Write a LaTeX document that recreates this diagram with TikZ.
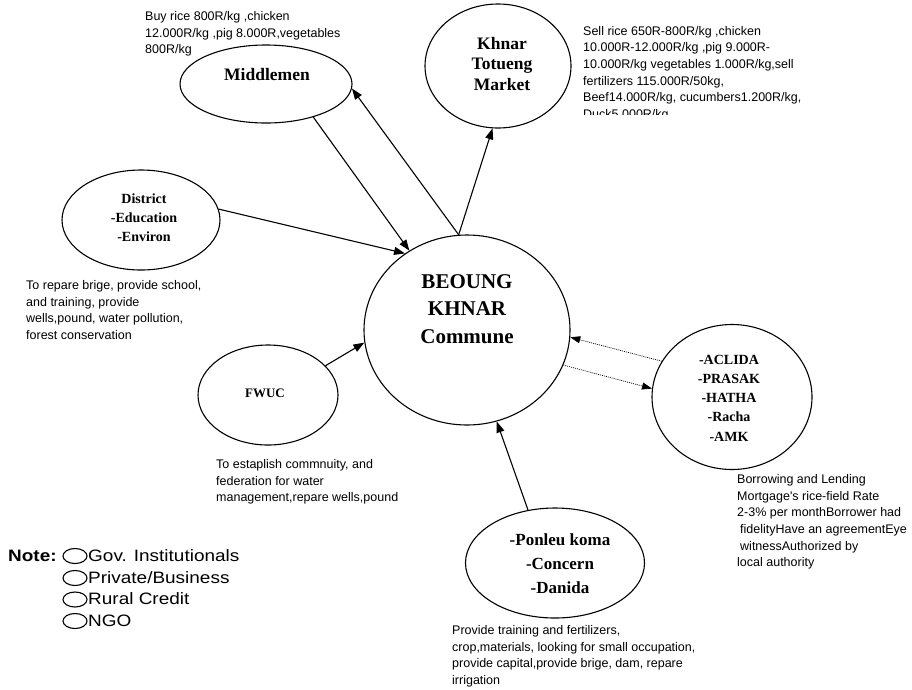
\documentclass[tikz,border=0pt]{standalone}
\usepackage{fontspec}
\setmainfont{Liberation Serif}
\newfontfamily\arialf{Liberation Sans}
\newfontfamily\legf[FakeStretch=1.15]{Liberation Sans}
\usetikzlibrary{shapes.geometric,arrows.meta}
\tikzset{
  ell/.style={draw, ellipse, line width=1.1pt, inner sep=0pt},
  lab/.style={align=center, inner sep=0pt, font=\bfseries},
  ann/.style={anchor=north west, align=left, inner sep=0pt, font=\arialf\fontsize{12.5}{16.6}\selectfont},
  arr/.style={-{Triangle[length=11pt,width=8pt]}, line width=1.1pt},
  darr/.style={-{Triangle[length=10pt,width=7pt]}, line width=0.7pt, dash pattern=on 1pt off 1pt},
  legtext/.style={anchor=base west, inner sep=0pt, font=\legf\fontsize{16.5}{20}\selectfont},
  legell/.style={draw, ellipse, line width=1.1pt, inner sep=0pt, minimum width=24pt, minimum height=15pt}
}
\begin{document}
\begin{tikzpicture}[x=1pt,y=-1pt]
\useasboundingbox[fill=white] (0,0) rectangle (912,689);

% ellipses
\node[ell, minimum width=206pt, minimum height=190pt] (bk) at (467,330) {};
\node[ell, minimum width=172pt, minimum height=78pt] (mid) at (266,84) {};
\node[ell, minimum width=146pt, minimum height=124pt] (mkt) at (498,66) {};
\node[ell, minimum width=158pt, minimum height=100pt] (dis) at (141,220) {};
\node[ell, minimum width=140pt, minimum height=100pt] (fw) at (268,395) {};
\node[ell, minimum width=160pt, minimum height=145pt] (ac) at (732,397) {};
\node[ell, minimum width=179pt, minimum height=110pt] (pk) at (555,563) {};

% ellipse labels
\node[lab, font=\bfseries\fontsize{21}{27.5}\selectfont] (bkt) at (467,309) {BEOUNG\\KHNAR\\Commune};
\node[lab, font=\bfseries\fontsize{17.5}{20}\selectfont] (midt) at (267,75) {Middlemen};
\node[lab, font=\bfseries\fontsize{17.5}{20.5}\selectfont] (mktt) at (502,64) {Khnar\\Totueng\\Market};
\node[lab, font=\bfseries\fontsize{14}{19}\selectfont] (dist) at (144,218) {District\\-Education\\-Environ};
\node[lab, font=\bfseries\fontsize{13}{16}\selectfont] (fwt) at (265,393) {FWUC};
\node[lab, font=\bfseries\fontsize{14}{19.3}\selectfont] (act) at (729,398) {-ACLIDA\\-PRASAK\\-HATHA\\-Racha\\-AMK};
\node[lab, font=\bfseries\fontsize{17}{24}\selectfont] (pkt) at (560,564) {-Ponleu koma\\-Concern\\-Danida};

% connectors
\draw[arr] (mid.-35) -- (bk.126);
\draw[arr] (bk.95) -- (mid.-3);
\draw[arr] (bk.95) -- (mkt.265);
\draw[arr] (dis.8) -- (bk.129);
\draw[arr] (fw.27) -- (bk.187);
\draw[arr] (pk.117) -- (bk.-72);
\draw[darr] (ac.153) -- (bk.-4);
\draw[darr] (bk.-20) -- (ac.174);

% annotations
\node[ann] (buy) at (145,11.5) {Buy rice 800R/kg ,chicken\\12.000R/kg ,pig 8.000R,vegetables\\800R/kg};
\begin{scope}
\clip (570,0) rectangle (912,114);
\node[ann] (sell) at (583,26) {Sell rice 650R-800R/kg ,chicken\\10.000R-12.000R/kg ,pig 9.000R-\\10.000R/kg vegetables 1.000R/kg,sell\\fertilizers 115.000R/50kg,\\Beef14.000R/kg, cucumbers1.200R/kg,\\Duck5.000R/kg};
\end{scope}
\node[ann] (disa) at (26,280.5) {To repare brige, provide school,\\and training, provide\\wells,pound, water pollution,\\forest conservation};
\node[ann] (fwa) at (216,459.5) {To estaplish commnuity, and\\federation for water\\management,repare wells,pound};
\node[ann] (aca) at (737,474.5) {Borrowing and Lending\\Mortgage's rice-field Rate\\2-3\% per monthBorrower had\\\hspace*{3pt}fidelityHave an agreementEye\\\hspace*{3pt}witnessAuthorized by\\local authority};
\node[ann] (pka) at (452,625.5) {Provide training and fertilizers,\\crop,materials, looking for small occupation,\\provide capital,provide brige, dam, repare\\irrigation};

% legend
\node[legtext, font=\legf\bfseries\fontsize{16.5}{20}\selectfont] (note) at (8,561) {Note:};
\node[legell] (l1) at (75,556) {};
\node[legell] (l2) at (75,578) {};
\node[legell] (l3) at (75,599.5) {};
\node[legell] (l4) at (75,621) {};
\node[legtext] (t1) at (88,561) {Gov. Institutionals};
\node[legtext] (t2) at (88,583) {Private/Business};
\node[legtext] (t3) at (88,604.5) {Rural Credit};
\node[legtext] (t4) at (88,626) {NGO};
\end{tikzpicture}
\end{document}
